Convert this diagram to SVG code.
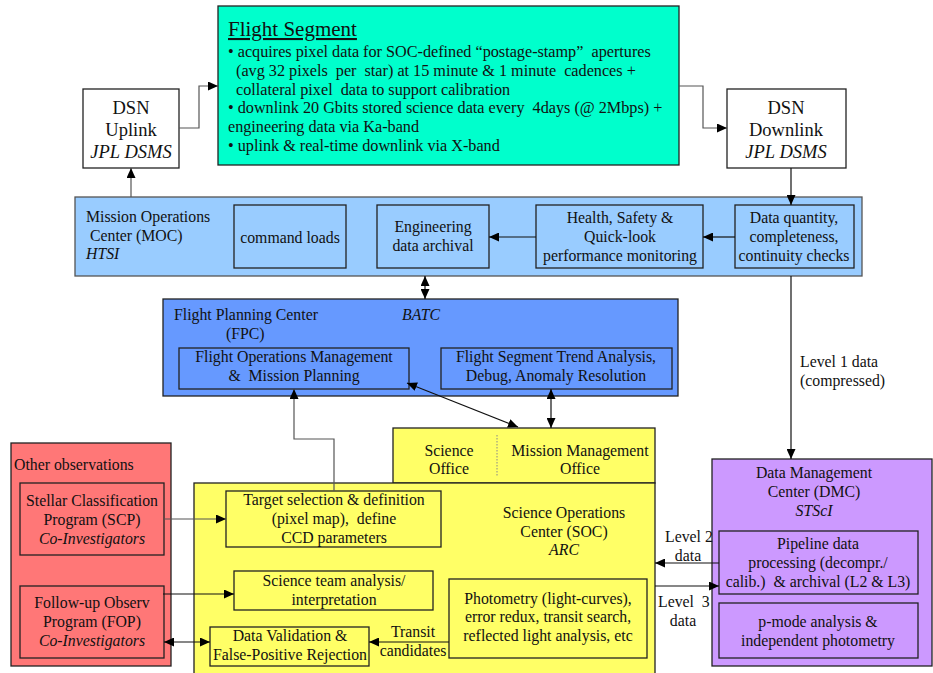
<svg xmlns="http://www.w3.org/2000/svg" width="933" height="673" viewBox="0 0 933 673">
  <defs>
    <marker id="arrow" viewBox="0 0 10 9" refX="10" refY="4.5" markerWidth="10" markerHeight="9" markerUnits="userSpaceOnUse" orient="auto-start-reverse">
      <path d="M0,0 L10,4.5 L0,9 z" fill="#000"/>
    </marker>
  </defs>
  <style>
    text { font-family: "Liberation Serif", "Times New Roman", serif; font-size: 15.8px; fill: #111; }
    .c { text-anchor: middle; }
    .i { font-style: italic; }
    .pre { white-space: pre; }
    .fs { font-size: 16.2px; }
    .dsn { font-size: 18.5px; }
    .box { stroke: #222; stroke-width: 1.3; }
    .inner { fill: none; stroke: #222; stroke-width: 1.3; }
    .link { fill: none; stroke: #111; stroke-width: 1.2; }
    .grey { stroke: #555; }
    .end { marker-end: url(#arrow); }
    .both { marker-start: url(#arrow); marker-end: url(#arrow); }
  </style>

  <!-- Flight Segment -->
  <g id="flight-segment">
    <rect class="box" x="218" y="6" width="461" height="159" fill="#00FFCC"/>
    <text x="228" y="36" style="font-size:21px" text-decoration="underline">Flight Segment</text>
    <text x="228" y="57" class="pre fs">• acquires pixel data for SOC-defined “postage-stamp”  apertures</text>
    <text x="236" y="76" class="pre fs">(avg 32 pixels  per  star) at 15 minute &amp; 1 minute  cadences +</text>
    <text x="236" y="95" class="pre fs">collateral pixel  data to support calibration</text>
    <text x="228" y="113" class="pre fs">• downlink 20 Gbits stored science data every  4days (@ 2Mbps) +</text>
    <text x="228" y="132" class="fs">engineering data via Ka-band</text>
    <text x="228" y="151" class="fs">• uplink &amp; real-time downlink via X-band</text>
  </g>

  <!-- DSN Uplink -->
  <g id="dsn-uplink">
    <rect class="box" x="83" y="89" width="96" height="79" fill="#fff"/>
    <text x="131" y="114" class="c dsn">DSN</text>
    <text x="131" y="136" class="c dsn">Uplink</text>
    <text x="131" y="158" class="c i dsn">JPL DSMS</text>
  </g>

  <!-- DSN Downlink -->
  <g id="dsn-downlink">
    <rect class="box" x="727" y="89" width="119" height="79" fill="#fff"/>
    <text x="786" y="114" class="c dsn">DSN</text>
    <text x="786" y="136" class="c dsn">Downlink</text>
    <text x="786" y="158" class="c i dsn">JPL DSMS</text>
  </g>

  <!-- Mission Operations Center -->
  <g id="moc">
    <rect x="75" y="197" width="787" height="79" fill="#99CCFF" stroke="#555" stroke-width="1.3"/>
    <text x="86" y="222">Mission Operations</text>
    <text x="90" y="241">Center (MOC)</text>
    <text x="86" y="259" class="i">HTSI</text>
    <g id="command-loads">
      <rect class="inner" x="234" y="205" width="112" height="63"/>
      <text x="290" y="243" class="c">command loads</text>
    </g>
    <g id="eng-archival">
      <rect class="inner" x="377" y="205" width="112" height="63"/>
      <text x="433" y="232" class="c">Engineering</text>
      <text x="433" y="251" class="c">data archival</text>
    </g>
    <g id="health-safety">
      <rect class="inner" x="536" y="205" width="167" height="63"/>
      <text x="620" y="223" class="c">Health, Safety &amp;</text>
      <text x="620" y="242" class="c">Quick-look</text>
      <text x="620" y="261" class="c">performance monitoring</text>
    </g>
    <g id="data-checks">
      <rect class="inner" x="735" y="205" width="119" height="63"/>
      <text x="794" y="223" class="c">Data quantity,</text>
      <text x="794" y="242" class="c">completeness,</text>
      <text x="794" y="261" class="c">continuity checks</text>
    </g>
  </g>

  <!-- Flight Planning Center -->
  <g id="fpc">
    <rect class="box" x="163" y="299" width="515" height="97" fill="#6699FF"/>
    <text x="174" y="320">Flight Planning Center</text>
    <text x="226" y="339">(FPC)</text>
    <text x="402" y="320" class="i">BATC</text>
    <g id="flight-ops">
      <rect class="inner" x="179" y="348" width="230" height="41"/>
      <text x="294" y="362" class="c">Flight Operations Management</text>
      <text x="294" y="381" class="c pre">&amp;  Mission Planning</text>
    </g>
    <g id="trend-analysis">
      <rect class="inner" x="441" y="348" width="231" height="41"/>
      <text x="556" y="362" class="c">Flight Segment Trend Analysis,</text>
      <text x="556" y="381" class="c">Debug, Anomaly Resolution</text>
    </g>
  </g>

  <!-- Other observations -->
  <g id="other-observations">
    <rect class="box" x="11" y="443" width="160" height="223" fill="#FF7777"/>
    <text x="14" y="470">Other observations</text>
    <g id="scp">
      <rect class="inner" x="20" y="483" width="144" height="72"/>
      <text x="92" y="506" class="c">Stellar Classification</text>
      <text x="92" y="525" class="c">Program (SCP)</text>
      <text x="92" y="544" class="c i">Co-Investigators</text>
    </g>
    <g id="fop">
      <rect class="inner" x="20" y="586" width="144" height="72"/>
      <text x="92" y="608" class="c">Follow-up Observ</text>
      <text x="92" y="627" class="c">Program (FOP)</text>
      <text x="92" y="646" class="c i">Co-Investigators</text>
    </g>
  </g>

  <!-- Science Office / Mission Management Office -->
  <g id="science-office">
    <rect class="box" x="393" y="428" width="262" height="55" fill="#FFFF66"/>
    <line x1="497" y1="435" x2="497" y2="476" stroke="#888" stroke-width="1" stroke-dasharray="1.5,1.5"/>
    <text x="449" y="456" class="c">Science</text>
    <text x="449" y="474" class="c">Office</text>
    <text x="580" y="456" class="c">Mission Management</text>
    <text x="580" y="474" class="c">Office</text>
  </g>

  <!-- Science Operations Center -->
  <g id="soc">
    <rect class="box" x="194" y="483" width="461" height="200" fill="#FFFF66"/>
    <text x="564" y="518" class="c">Science Operations</text>
    <text x="564" y="537" class="c">Center (SOC)</text>
    <text x="564" y="555" class="c i">ARC</text>
    <g id="target-selection">
      <rect class="inner" x="226" y="491" width="215" height="56"/>
      <text x="334" y="505" class="c">Target selection &amp; definition</text>
      <text x="334" y="524" class="c pre">(pixel map),  define</text>
      <text x="334" y="543" class="c">CCD parameters</text>
    </g>
    <g id="science-team">
      <rect class="inner" x="234" y="571" width="199" height="39"/>
      <text x="334" y="586" class="c">Science team analysis/</text>
      <text x="334" y="605" class="c">interpretation</text>
    </g>
    <g id="data-validation">
      <rect class="inner" x="210" y="627" width="159" height="39"/>
      <text x="290" y="641" class="c">Data Validation &amp;</text>
      <text x="290" y="660" class="c">False-Positive Rejection</text>
    </g>
    <g id="photometry">
      <rect class="inner" x="449" y="579" width="198" height="79"/>
      <text x="548" y="604" class="c">Photometry (light-curves),</text>
      <text x="548" y="622" class="c">error redux, transit search,</text>
      <text x="548" y="641" class="c">reflected light analysis, etc</text>
    </g>
  </g>

  <!-- Data Management Center -->
  <g id="dmc">
    <rect class="box" x="712" y="459" width="220" height="207" fill="#CC99FF"/>
    <text x="814" y="478" class="c">Data Management</text>
    <text x="814" y="497" class="c">Center (DMC)</text>
    <text x="814" y="516" class="c i">STScI</text>
    <g id="pipeline">
      <rect class="inner" x="719" y="531" width="199" height="63"/>
      <text x="818" y="549" class="c">Pipeline data</text>
      <text x="818" y="568" class="c">processing (decompr./</text>
      <text x="818" y="587" class="c pre">calib.)  &amp; archival (L2 &amp; L3)</text>
    </g>
    <g id="p-mode">
      <rect class="inner" x="719" y="603" width="199" height="55"/>
      <text x="818" y="627" class="c">p-mode analysis &amp;</text>
      <text x="818" y="646" class="c">independent photometry</text>
    </g>
  </g>

  <!-- Connectors -->
  <g id="connectors">
    <polyline class="link grey end" points="179,128 199,128 199,86 218,86"/>
    <polyline class="link grey end" points="679,86 703,86 703,128 727,128"/>
    <line class="link end" x1="791" y1="168" x2="791" y2="205"/>
    <line class="link grey end" x1="131" y1="197" x2="131" y2="168"/>
    <line class="link end" x1="735" y1="237" x2="703" y2="237"/>
    <line class="link end" x1="536" y1="237" x2="489" y2="237"/>
    <line class="link both" x1="425" y1="276" x2="425" y2="299"/>
    <line class="link both" x1="407" y1="383" x2="518" y2="427"/>
    <line class="link both" x1="551" y1="389" x2="551" y2="428"/>
    <polyline class="link grey end" points="334,491 334,439 294,439 294,389"/>
    <line class="link end" x1="791" y1="276" x2="791" y2="459"/>
    <text x="800" y="367">Level 1 data</text>
    <text x="800" y="386">(compressed)</text>
    <line class="link grey end" x1="164" y1="519" x2="226" y2="519"/>
    <line class="link end" x1="163" y1="594" x2="234" y2="594"/>
    <line class="link both" x1="164" y1="642" x2="210" y2="642"/>
    <line class="link end" x1="449" y1="642" x2="369" y2="642"/>
    <text x="413" y="637" class="c">Transit</text>
    <text x="413" y="656" class="c">candidates</text>
    <line class="link end" x1="719" y1="563" x2="655" y2="563"/>
    <line class="link end" x1="655" y1="586" x2="719" y2="586"/>
    <text x="665" y="542">Level 2</text>
    <text x="688" y="561" class="c">data</text>
    <text x="658" y="607" class="pre">Level  3</text>
    <text x="683" y="626" class="c">data</text>
  </g>
</svg>
